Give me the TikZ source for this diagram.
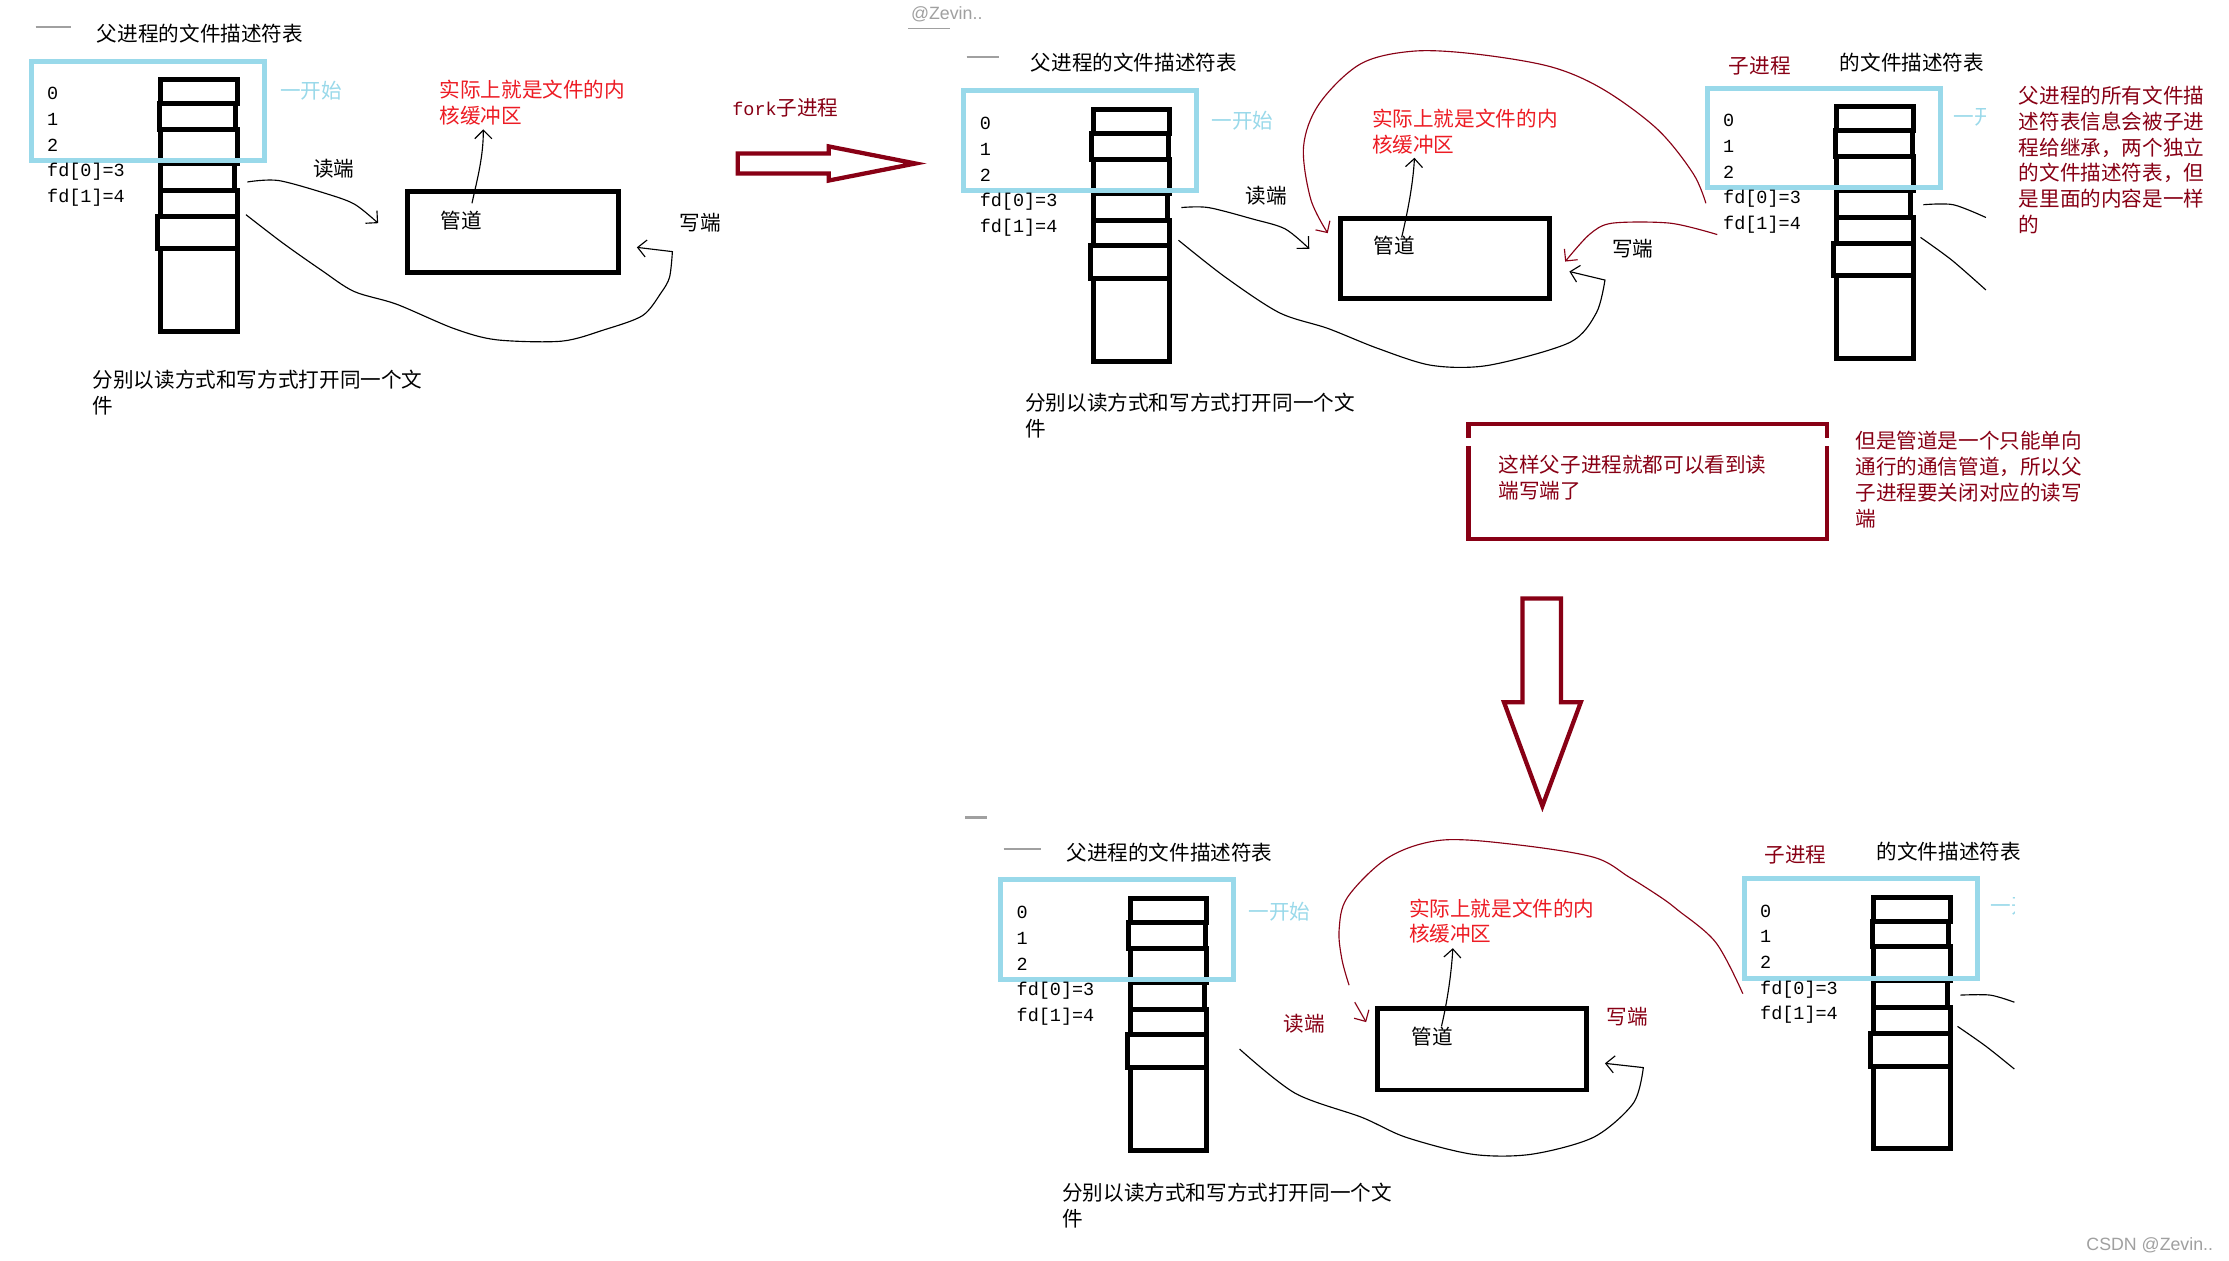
\documentclass[tikz,border=0pt]{standalone}
\usepackage{fontspec}
\setmainfont{Liberation Serif}
\newfontfamily\cjk{Noto Sans CJK SC}
\newfontfamily\monof{Liberation Mono}
\newfontfamily\sansf{Liberation Sans}
\usetikzlibrary{arrows.meta}
\definecolor{cyanbox}{HTML}{99D9EA}
\definecolor{dred}{HTML}{880015}
\definecolor{bred}{HTML}{ED1C24}
\definecolor{wgrey}{HTML}{A0A0A0}
\tikzset{
  zh/.style={font=\cjk\fontsize{14.5}{18}\selectfont, inner sep=0pt, anchor=west, align=left},
  num/.style={font=\monof\fontsize{13}{13}\selectfont, inner sep=0pt, anchor=west},
  colbox/.style={line width=3.5pt},
  bluebox/.style={draw=cyanbox, line width=3.5pt},
  pipebox/.style={draw, line width=3.5pt, inner sep=0pt, anchor=north west},
  hand/.style={line width=0.8pt},
  barb/.style={-{Straight Barb[length=6pt,width=12pt]}},
  greydash/.style={draw=wgrey, line width=1.6pt},
  blockarrow/.style={draw=dred, line width=3pt, line join=miter},
  fdtable/.pic={
    \draw[colbox] (91,13) rectangle (145,30);
    \draw[colbox] (90,30) rectangle (144,48);
    \draw[colbox] (91,48) rectangle (145,72);
    \draw[colbox] (91,72) rectangle (143,91);
    \draw[colbox] (91,91) rectangle (145,109);
    \draw[colbox] (89,109) rectangle (145,132);
    \draw[colbox] (91,132) rectangle (145,190);
    \draw[bluebox] (0,0) rectangle (164,70);
    \node[num] (-n0) at (11,23) {0};
    \node[num] (-n1) at (11,41) {1};
    \node[num] (-n2) at (11,59) {2};
    \node[num] (-n3) at (11,78) {fd[0]=3};
    \node[num] (-n4) at (11,96) {fd[1]=4};
  }
}
\begin{document}
\begin{tikzpicture}[x=1pt,y=-1pt]
\useasboundingbox[fill=white] (0,0) rectangle (1568,887);

% ---------- watermarks ----------
\node[font=\sansf\fontsize{12.5}{12.5}\selectfont, text=wgrey, inner sep=0pt] (wm1) at (666,10) {@Zevin..};
\draw[greydash, line width=1.2pt] (639,20) -- (668,20);
\node[font=\sansf\fontsize{12.5}{12.5}\selectfont, text=wgrey, inner sep=0pt, anchor=east] (wm2) at (1557,876) {CSDN @Zevin..};

% ================= Panel 1 =================
\draw[greydash] (25,19) -- (50,19);
\node[zh] (t1) at (68,24) {父进程的文件描述符表};
\pic (A) at (22,43) {fdtable};
\node[zh, text=cyanbox] (s1) at (197,64) {一开始};
\node[zh, text=bred] (k1) at (309,72) {实际上就是文件的内\\核缓冲区};
\node[pipebox, minimum width=148pt, minimum height=57pt] (p1) at (285,133) {};
\node[zh] (g1) at (310,155) {管道};
\node[zh] (r1) at (220,119) {读端};
\node[zh] (w1) at (478,157) {写端};
\node[zh] (d1) at (65,276) {分别以读方式和写方式打开同一个文\\件};
\coordinate (rd1s) at (174,128);
\coordinate (rd1e) at (266,157);
\draw[hand, barb] plot[smooth, tension=0.5] coordinates {(rd1s) (196,127) (232,137) (250,144) (rd1e)};
\coordinate (wr1s) at (173,151);
\coordinate (wr1e) at (448,174);
\draw[hand, barb] plot[smooth, tension=0.5] coordinates {(wr1s) (199,171) (226,190) (249,205) (279,214) (319,231) (349,239) (395,240) (425,232) (452,222) (465,206) (471,195) (473,177)} -- (wr1e);
\coordinate (up1s) at (332,143);
\coordinate (up1e) at (340,91);
\draw[hand, barb] (up1s) .. controls (336,125) and (340,110) .. (up1e);

% ---------- fork arrow ----------
\node[zh, text=dred] (fork) at (515,76) {{\monof\fontsize{13}{13}\selectfont fork}子进程};
\draw[blockarrow] (519,108) -- (583,108) -- (583,103) -- (644,115) -- (583,127) -- (583,122) -- (519,122) -- cycle;

% ================= Panel 2 =================
\draw[greydash] (680,40) -- (703,40);
\node[zh] (t2) at (725,44) {父进程的文件描述符表};
\pic (B) at (678,64) {fdtable};
\node[zh, text=cyanbox] (s2) at (852,85) {一开始};
\node[zh, text=bred] (k2) at (965,92.5) {实际上就是文件的内\\核缓冲区};
\node[pipebox, minimum width=147pt, minimum height=56pt] (p2) at (941,152) {};
\node[zh] (g2) at (966,173) {管道};
\node[zh] (r2) at (876,138) {读端};
\node[zh] (w2) at (1134,175) {写端};
\node[zh] (d2) at (721,292.5) {分别以读方式和写方式打开同一个文\\件};
\coordinate (rd2s) at (831,146);
\coordinate (rd2e) at (921,175);
\draw[hand, barb] plot[smooth, tension=0.5] coordinates {(rd2s) (850,146) (881,154) (904,161) (rd2e)};
\coordinate (wr2s) at (829,169);
\coordinate (wr2e) at (1104,191);
\draw[hand, barb] plot[smooth, tension=0.5] coordinates {(wr2s) (862,195) (900,220) (934,231) (969,245) (1007,257) (1047,257) (1104,241) (1123,220) (1129,197)} -- (wr2e);
\coordinate (up2s) at (986,167);
\coordinate (up2e) at (995,111);
\draw[hand, barb] (up2s) .. controls (990,150) and (994,130) .. (up2e);

% child table
\node[zh, text=dred] (c2) at (1216,46) {子进程};
\node[zh] (ct2) at (1294,44) {的文件描述符表};
\pic (C) at (1201,62) {fdtable};
\begin{scope}
  \clip (1368,60) rectangle (1397,105);
  \node[zh, text=cyanbox] (s3) at (1374,82) {一开始};
\end{scope}
\coordinate (cl1s) at (1353,144);
\coordinate (cl1e) at (1397,153);
\draw[hand] plot[smooth, tension=0.5] coordinates {(cl1s) (1374,144) (cl1e)};
\coordinate (cl2s) at (1351,167);
\coordinate (cl2e) at (1397,204);
\draw[hand] plot[smooth, tension=0.5] coordinates {(cl2s) (1373,183) (cl2e)};
\node[zh, text=dred, font=\cjk\fontsize{14.5}{18.2}\selectfont] (expl) at (1420,112.5) {父进程的所有文件描\\述符表信息会被子进\\程给继承，两个独立\\的文件描述符表，但\\是里面的内容是一样\\的};

% red connectors from child table to the pipe
\coordinate (rc1s) at (1200,143);
\coordinate (rc1e) at (934,164);
\draw[hand, draw=dred, barb] plot[smooth, tension=0.55] coordinates {(rc1s) (1191,122) (1166,91) (1128,63) (1091,47) (1038,38) (994,36) (957,45) (928,73) (917,103) (922,140) (rc1e)};
\coordinate (rc2s) at (1208,165);
\coordinate (rc2e) at (1101,184);
\draw[hand, draw=dred, barb] plot[smooth, tension=0.5] coordinates {(rc2s) (1175,157) (1134,157) (1118,165) (rc2e)};

% note box
\draw[draw=dred, line width=3pt] (1033,308) -- (1033,298) -- (1285,298) -- (1285,308);
\draw[draw=dred, line width=3pt] (1033,314) -- (1033,379) -- (1285,379) -- (1285,314);
\node[zh, text=dred] (note) at (1054,336) {这样父子进程就都可以看到读\\端写端了};
\node[zh, text=dred, font=\cjk\fontsize{14.5}{18.3}\selectfont] (note2) at (1305,337.5) {但是管道是一个只能单向\\通行的通信管道，所以父\\子进程要关闭对应的读写\\端};

% down arrow
\draw[blockarrow] (1071,421) -- (1098,421) -- (1098,494) -- (1112,494) -- (1085,567) -- (1058,494) -- (1071,494) -- cycle;

% ================= Panel 3 =================
\draw[greydash] (679,575) -- (694,575);
\draw[greydash] (706,597) -- (732,597);
\node[zh] (t3) at (750,600) {父进程的文件描述符表};
\pic (D) at (704,619) {fdtable};
\node[zh, text=cyanbox] (s4) at (878,641) {一开始};
\node[zh, text=bred] (k3) at (991,648) {实际上就是文件的内\\核缓冲区};
\node[pipebox, minimum width=147pt, minimum height=57pt] (p3) at (967,708) {};
\node[zh] (g3) at (993,729) {管道};
\node[zh, text=dred] (r3) at (903,720) {读端};
\node[zh, text=dred] (w3) at (1130,715) {写端};
\node[zh] (d3) at (747,848) {分别以读方式和写方式打开同一个文\\件};
\coordinate (wr3s) at (872,738);
\coordinate (wr3e) at (1129,748);
\draw[hand, barb] plot[smooth, tension=0.5] coordinates {(wr3s) (911,769) (958,786) (989,800) (1036,812) (1077,812) (1121,800) (1149,776) (1156,751)} -- (wr3e);
\coordinate (up3s) at (1014,722);
\coordinate (up3e) at (1022,667);
\draw[hand, barb] (up3s) .. controls (1018,705) and (1021,685) .. (up3e);

% child table
\node[zh, text=dred] (c3) at (1241,601) {子进程};
\node[zh] (ct3) at (1320,599) {的文件描述符表};
\pic (E) at (1227,618) {fdtable};
\begin{scope}
  \clip (1395,615) rectangle (1417,660);
  \node[zh, text=cyanbox] (s5) at (1400,637) {一开始};
\end{scope}
\coordinate (cl3s) at (1379,700);
\coordinate (cl3e) at (1417,705);
\draw[hand] plot[smooth, tension=0.5] coordinates {(cl3s) (1400,700) (cl3e)};
\coordinate (cl4s) at (1377,722);
\coordinate (cl4e) at (1417,752);
\draw[hand] plot[smooth, tension=0.5] coordinates {(cl4s) (1397,736) (cl4e)};

% red connector
\coordinate (rc3s) at (1226,699);
\coordinate (rc3m) at (949,693);
\draw[hand, draw=dred] plot[smooth, tension=0.55] coordinates {(rc3s) (1207,663) (1180,640) (1168,631) (1146,617) (1121,603) (1065,594) (1014,591) (977,603) (948,631) (942,654) (944,675) (rc3m)};
\coordinate (rc3a) at (953,705);
\coordinate (rc3e) at (961,719);
\draw[hand, draw=dred, barb] (rc3a) -- (rc3e);
\end{tikzpicture}
\end{document}
